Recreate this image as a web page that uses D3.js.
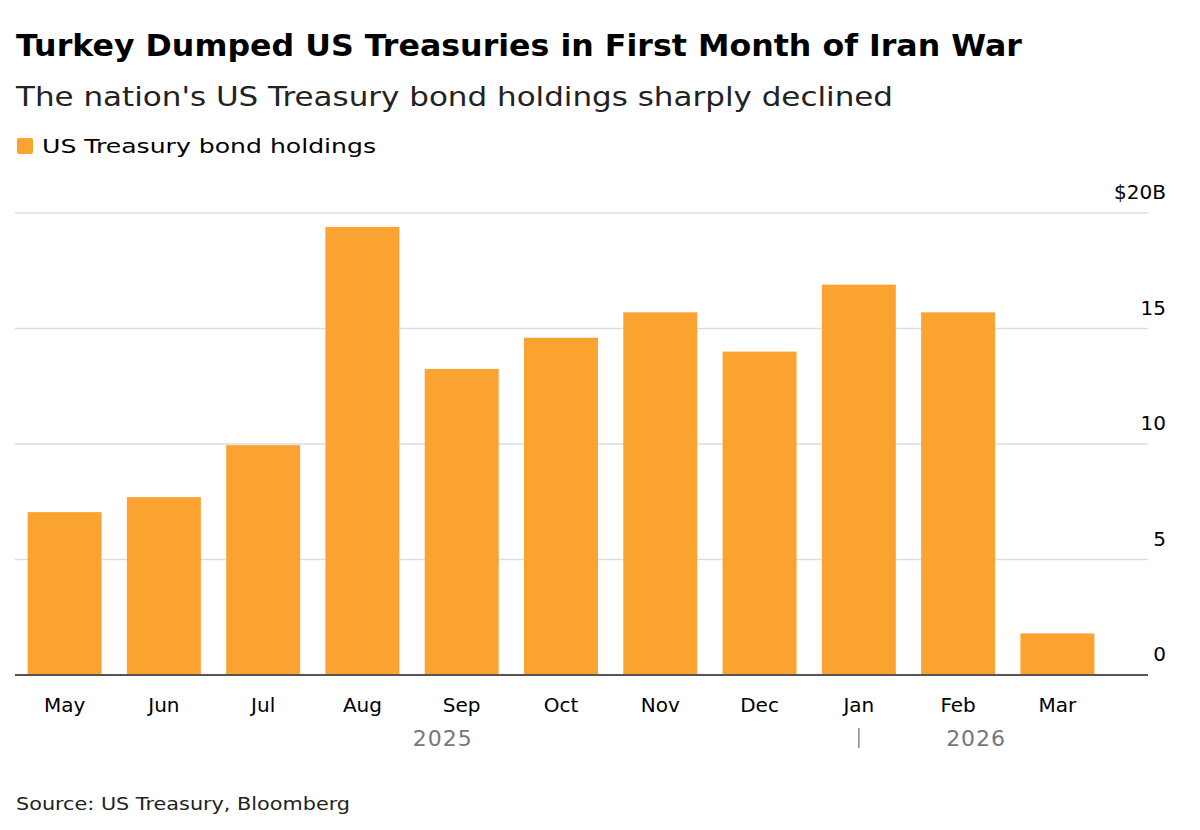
<!DOCTYPE html>
<html><head><meta charset="utf-8">
<script src="https://cdn.jsdelivr.net/npm/d3@7"></script>
<style>body{margin:0;background:#fff;font-family:"DejaVu Sans",Arial,sans-serif}</style>
</head><body><svg id="c" width="1200" height="830"></svg>
<script>
const months = ["May","Jun","Jul","Aug","Sep","Oct","Nov","Dec","Jan","Feb","Mar"]
const holdings = [7.05, 7.7, 9.95, 19.4, 13.25, 14.6, 15.7, 14.0, 16.9, 15.7, 1.8]
const yTicks = [0, 5, 10, 15, 20]
const years = [{label:"2025", month:"Sep"}, {label:"2026", month:"Feb"}]

const svg = d3.select("#c")
const orange = "#fba330"

const x = d3.scaleBand().domain(months).range([15, 1107]).paddingInner(0.255).paddingOuter(0.127)
const y = d3.scaleLinear().domain([0, 20]).range([675, 213])

svg.append("text").attr("x", 16).attr("y", 56).text("Turkey Dumped US Treasuries in First Month of Iran War")
  .style("font-size", "30px").style("font-weight", "bold").attr("fill", "#000")
  .attr("textLength", 1006).attr("lengthAdjust", "spacingAndGlyphs")
svg.append("text").attr("x", 16).attr("y", 106).text("The nation's US Treasury bond holdings sharply declined")
  .style("font-size", "27px").attr("fill", "#222")
  .attr("textLength", 877).attr("lengthAdjust", "spacingAndGlyphs")
svg.append("rect").attr("x", 17).attr("y", 138).attr("width", 16).attr("height", 16).attr("rx", 2).attr("fill", orange)
svg.append("text").attr("x", 42).attr("y", 153).text("US Treasury bond holdings").style("font-size", "20px").attr("fill", "#000")
  .attr("textLength", 334).attr("lengthAdjust", "spacingAndGlyphs")

// gridlines
svg.append("g").selectAll("line").data(yTicks.filter(d => d > 0)).join("line")
  .attr("x1", 15).attr("x2", 1148).attr("y1", d => y(d)).attr("y2", d => y(d))
  .attr("stroke", "#ddd").attr("stroke-width", 1.5)

svg.append("g").selectAll("text").data(yTicks).join("text")
  .attr("x", 1166).attr("y", d => y(d) - 14).attr("text-anchor", "end")
  .text(d => d === 20 ? "$20B" : d).style("font-size", "20px").attr("fill", "#000")

svg.append("g").selectAll("rect").data(holdings).join("rect")
  .attr("x", (d, i) => x(months[i])).attr("width", x.bandwidth())
  .attr("y", d => y(d)).attr("height", d => y(0) - y(d)).attr("fill", orange)

svg.append("line").attr("x1", 15).attr("x2", 1148).attr("y1", y(0)).attr("y2", y(0))
  .attr("stroke", "#555").attr("stroke-width", 2)

svg.append("g").selectAll("text").data(months).join("text")
  .attr("x", d => x(d) + x.bandwidth() / 2).attr("y", 712).attr("text-anchor", "middle")
  .text(d => d).style("font-size", "20px").attr("fill", "#000")

svg.append("g").selectAll("text").data(years).join("text")
  .attr("x", (d, i) => x(d.month) + x.bandwidth() / 2 + (i ? 18 : -19)).attr("y", 746).attr("text-anchor", "middle")
  .text(d => d.label).style("font-size", "22px").style("letter-spacing", "1px").attr("fill", "#777")
svg.append("line").attr("x1", x("Jan") + x.bandwidth() / 2).attr("x2", x("Jan") + x.bandwidth() / 2)
  .attr("y1", 728).attr("y2", 748).attr("stroke", "#888").attr("stroke-width", 1.5)

svg.append("text").attr("x", 16).attr("y", 810).text("Source: US Treasury, Bloomberg")
  .style("font-size", "18px").attr("fill", "#222")
  .attr("textLength", 334).attr("lengthAdjust", "spacingAndGlyphs")
</script></body></html>
